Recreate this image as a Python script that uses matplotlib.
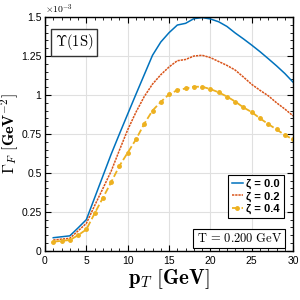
import numpy as np
import matplotlib
matplotlib.use('Agg')
import matplotlib.pyplot as plt
from matplotlib.ticker import MultipleLocator

plt.rcParams['mathtext.fontset'] = 'cm'
plt.rcParams['font.family'] = ['Liberation Sans', 'DejaVu Sans']

# datos (Gamma_F en unidades de 1e-3 GeV^-2)
pT = list(range(1, 31))
zeta_labels = ['ζ = 0.0', 'ζ = 0.2', 'ζ = 0.4']
gamma_z00 = [0.084, 0.090, 0.096, 0.147, 0.200, 0.34, 0.48, 0.62, 0.75, 0.878,
             1.005, 1.13, 1.255, 1.34, 1.40, 1.449, 1.46, 1.49, 1.497, 1.488,
             1.47, 1.44, 1.398, 1.36, 1.32, 1.278, 1.233, 1.187, 1.138, 1.082]
gamma_z02 = [0.069, 0.075, 0.080, 0.128, 0.176, 0.29, 0.40, 0.511, 0.646, 0.777,
             0.89, 0.99, 1.07, 1.13, 1.18, 1.22, 1.228, 1.25, 1.255, 1.24,
             1.215, 1.19, 1.16, 1.115, 1.068, 1.03, 0.995, 0.95, 0.91, 0.866]
gamma_z04 = [0.058, 0.064, 0.069, 0.10, 0.137, 0.24, 0.34, 0.44, 0.545, 0.63,
             0.715, 0.815, 0.90, 0.956, 1.004, 1.031, 1.042, 1.053, 1.053, 1.038,
             1.017, 0.99, 0.958, 0.92, 0.89, 0.85, 0.813, 0.779, 0.743, 0.715]

fig = plt.figure(figsize=(3, 3), dpi=100)
ax = fig.add_axes([0.15, 0.164, 0.827, 0.779])

ax.plot(pT, gamma_z00, color='#0072BD', lw=1.1, ls='-', label=zeta_labels[0])
ax.plot(pT, gamma_z02, color='#D95319', lw=1.1, ls=(0, (1.5, 0.6)), label=zeta_labels[1])
ax.plot(pT, gamma_z04, color='#EDB120', lw=1.3, ls='--', marker='.', ms=5,
        label=zeta_labels[2])

ax.set_xlim(0, 30)
ax.set_ylim(0, 1.5)
ax.set_xticks([0, 5, 10, 15, 20, 25, 30])
ax.set_yticks([0, 0.25, 0.5, 0.75, 1, 1.25, 1.5])
ax.set_yticklabels(['0', '0.25', '0.5', '0.75', '1', '1.25', '1.5'])
ax.xaxis.set_minor_locator(MultipleLocator(1))
ax.yaxis.set_minor_locator(MultipleLocator(0.05))
ax.tick_params(which='both', direction='in', top=True, right=True, labelsize=7.5)
ax.tick_params(which='major', length=4, width=0.8)
ax.tick_params(which='minor', length=2.5, width=0.6)
ax.tick_params(axis='y', which='major', pad=2.5)
ax.grid(True, which='major', color='#e0e0e0', lw=0.8)
ax.set_axisbelow(True)
for s in ax.spines.values():
    s.set_linewidth(1.0)

ax.text(0.0, 1.005, r'$\times10^{-3}$', transform=ax.transAxes, fontsize=7,
        ha='left', va='bottom', family='DejaVu Sans')

ax.set_xlabel(r'$\mathbf{p}_T\ [\mathbf{GeV}]$', fontsize=15, labelpad=1)
ax.set_ylabel(r'$\mathbf{\Gamma}_F\ [\mathbf{GeV}^{-2}]$', fontsize=11.5)
ax.yaxis.set_label_coords(-0.098, 0.5)

ax.text(0.04, 0.935, r'$\mathbf{\Upsilon}(1\mathrm{S})$', transform=ax.transAxes,
        fontsize=10.5, ha='left', va='top',
        bbox=dict(boxstyle='square,pad=0.25', fc='white', ec='#333333', lw=1.0))

leg = ax.legend(loc='lower right', bbox_to_anchor=(0.962, 0.14), fontsize=8,
                handlelength=1.0, handletextpad=0.3, borderpad=0.35,
                labelspacing=0.2, fancybox=False, edgecolor='black', framealpha=1,
                borderaxespad=0)
leg.get_frame().set_linewidth(0.8)
for t in leg.get_texts():
    t.set_fontweight('bold')

ax.text(0.955, 0.025, r'$\mathrm{T}\,=\,0.200\ \mathrm{GeV}$', transform=ax.transAxes,
        fontsize=9, ha='right', va='bottom',
        bbox=dict(boxstyle='square,pad=0.25', fc='white', ec='black', lw=0.8))

fig.savefig('out.png', dpi=100)
